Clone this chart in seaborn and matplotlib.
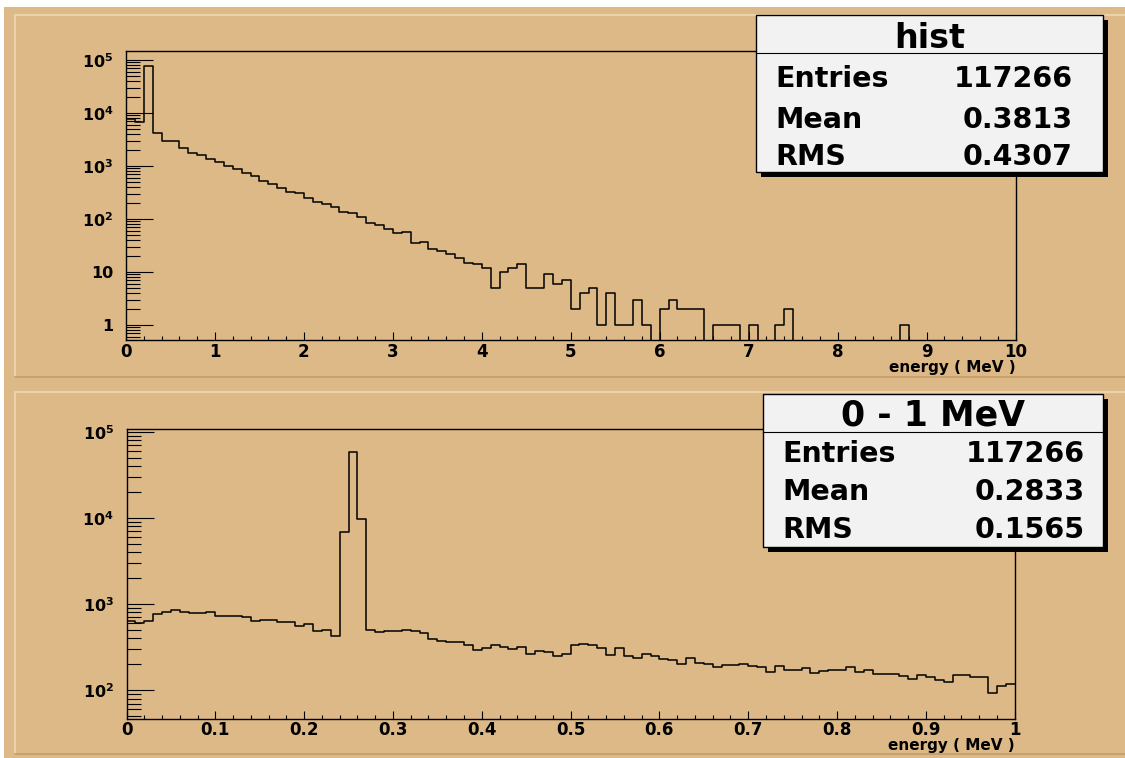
import matplotlib
matplotlib.use("Agg")
import matplotlib.pyplot as plt
from matplotlib.patches import Rectangle
from matplotlib.lines import Line2D
from matplotlib.ticker import LogLocator, MultipleLocator, FuncFormatter, NullFormatter
import numpy as np
import pandas as pd
import seaborn as sns

# full range spectrum, 100 bins of 0.1 MeV
full_counts = [7700, 6850, 78000, 4140, 2950, 2950, 2150, 1780, 1620, 1340,
               1170, 1000, 890, 740, 640, 515, 465, 390, 330, 310,
               250, 210, 190, 170, 138, 128, 110, 85, 77, 65,
               54, 56, 35, 37, 27, 25, 22, 18, 15, 14,
               12, 5, 10, 12, 14, 5, 5, 9, 6, 7,
               2, 4, 5, 1, 4, 1, 1, 3, 1, 0,
               2, 3, 2, 2, 2, 0, 1, 1, 1, 0,
               1, 0, 0, 1, 2, 0, 0, 0, 0, 0,
               0, 0, 0, 0, 0, 0, 0, 1, 0, 0,
               0, 0, 0, 0, 0, 0, 0, 0, 0, 0]
full_range = (0, 10)

# zoom 0 - 1 MeV, 100 bins of 0.01 MeV
low_counts = [640, 605, 640, 760, 807, 845, 815, 780, 795, 807,
              725, 725, 725, 710, 630, 650, 656, 622, 622, 555,
              585, 485, 499, 428, 6800, 58000, 9660, 502, 480, 490,
              485, 502, 485, 457, 390, 376, 366, 362, 336, 297,
              308, 336, 316, 305, 319, 264, 286, 279, 249, 267,
              331, 340, 331, 308, 260, 310, 253, 240, 267, 247,
              229, 223, 202, 236, 210, 204, 188, 195, 197, 202,
              190, 185, 165, 192, 171, 174, 179, 158, 166, 174,
              171, 187, 165, 171, 156, 156, 156, 147, 136, 149,
              144, 130, 126, 149, 151, 142, 142, 92, 111, 117]
low_range = (0, 1)

stats_top = ("hist", ["Entries", "Mean", "RMS"], ["117266", "0.3813", "0.4307"])
stats_bot = ("0 - 1 MeV", ["Entries", "Mean", "RMS"], ["117266", "0.2833", "0.1565"])

W, H = 1125, 758
TAN = "#DDB987"
LIGHT = "#EAD3AC"
DARK = "#C49C66"

plt.rcParams["font.family"] = ["DejaVu Sans"]
plt.rcParams["font.weight"] = "bold"
plt.rcParams["axes.linewidth"] = 1.0


def fx(x):
    return x / W


def fy(y):
    return 1 - y / H


def log_label(v, pos):
    e = int(round(np.log10(v)))
    if e == 0:
        return "1"
    if e == 1:
        return "10"
    return r"$\mathbf{10^{%d}}$" % e


def draw_hist(ax, counts, rng, ylim, major, minor):
    n = len(counts)
    edges = np.linspace(rng[0], rng[1], n + 1)
    df = pd.DataFrame({"energy": (edges[:-1] + edges[1:]) / 2, "counts": counts})
    sns.histplot(data=df, x="energy", weights="counts", bins=n, binrange=rng,
                 element="step", fill=False, color="black", linewidth=1.1, ax=ax)
    ax.set_yscale("log")
    ax.set_xlim(*rng)
    ax.set_ylim(*ylim)
    ax.set_facecolor(TAN)
    for s in ax.spines.values():
        s.set_color("black")
        s.set_linewidth(1.0)
    ax.xaxis.set_major_locator(MultipleLocator(major))
    ax.xaxis.set_minor_locator(MultipleLocator(minor))
    ax.xaxis.set_major_formatter(FuncFormatter(lambda v, p: f"{v:g}"))
    ax.yaxis.set_major_locator(LogLocator(base=10, numticks=20))
    ax.yaxis.set_minor_locator(LogLocator(base=10, subs=np.arange(2, 10), numticks=100))
    ax.yaxis.set_major_formatter(FuncFormatter(log_label))
    ax.yaxis.set_minor_formatter(NullFormatter())
    ax.tick_params(axis="y", which="major", direction="in", length=19.4, width=0.8,
                   right=False, pad=9, labelsize=11.5)
    ax.tick_params(axis="y", which="minor", direction="in", length=10, width=0.8, right=False)
    ax.tick_params(axis="x", which="major", direction="in", length=5.5, width=0.8,
                   top=False, pad=2, labelsize=12)
    ax.tick_params(axis="x", which="minor", direction="in", length=2.7, width=0.8, top=False)
    ax.set_ylabel("")
    ax.set_xlabel("energy ( MeV )", loc="right", fontsize=11, fontweight="bold")
    ax.xaxis.set_label_coords(1.0, -0.068)


def stats_box(fig, x0, y0, x1, y1, ysep, stats, title_base, title_size,
              row_bases, lab_x, val_x):
    title, labels, values = stats
    fig.add_artist(Rectangle((fx(x0 + 5), fy(y1 + 5)), (x1 - x0) / W, (y1 - y0) / H,
                             transform=fig.transFigure, facecolor="black",
                             edgecolor="none", zorder=5))
    fig.add_artist(Rectangle((fx(x0), fy(y1)), (x1 - x0) / W, (y1 - y0) / H,
                             transform=fig.transFigure, facecolor="#F2F2F2",
                             edgecolor="black", linewidth=1.0, zorder=6))
    fig.add_artist(Line2D([fx(x0), fx(x1)], [fy(ysep), fy(ysep)],
                          transform=fig.transFigure, color="black", linewidth=0.8, zorder=7))
    fig.text(fx((x0 + x1) / 2), fy(title_base), title, ha="center", va="baseline",
             fontsize=title_size, fontweight="bold", zorder=8)
    for lab, val, yb in zip(labels, values, row_bases):
        fig.text(fx(lab_x), fy(yb), lab, ha="left", va="baseline",
                 fontsize=20.5, fontweight="bold", zorder=8)
        fig.text(fx(val_x), fy(yb), val, ha="right", va="baseline",
                 fontsize=20.5, fontweight="bold", zorder=8)


fig = plt.figure(figsize=(W / 100, H / 100), dpi=100, facecolor="white")

# canvas and pad bevels
fig.add_artist(Rectangle((fx(4), 0), (W - 4) / W, fy(7), transform=fig.transFigure,
                         facecolor=TAN, edgecolor="none", zorder=-10))
for top, bottom in [(15, 377), (392, 754)]:
    fig.add_artist(Line2D([fx(15), fx(15)], [fy(top), fy(bottom)], transform=fig.transFigure,
                          color=LIGHT, linewidth=1.5, zorder=-5))
    fig.add_artist(Line2D([fx(15), 1], [fy(top), fy(top)], transform=fig.transFigure,
                          color=LIGHT, linewidth=1.5, zorder=-5))
    fig.add_artist(Line2D([fx(15), 1], [fy(bottom), fy(bottom)], transform=fig.transFigure,
                          color=DARK, linewidth=1.2, zorder=-5))

ax_top = fig.add_axes([fx(126), fy(340), (1015.5 - 126) / W, (340 - 50.7) / H])
ax_bot = fig.add_axes([fx(126.5), fy(718.5), (1014.7 - 126.5) / W, (718.5 - 429) / H])

draw_hist(ax_top, full_counts, full_range, (0.52, 1.5e5), 1, 0.2)
draw_hist(ax_bot, low_counts, low_range, (47, 1.08e5), 0.1, 0.02)

stats_box(fig, 756, 15, 1103, 172, 52.7, stats_top, 48, 24, [87, 128, 165], 775, 1073)
stats_box(fig, 763, 394, 1103, 547, 431.7, stats_bot, 425, 25, [462, 500, 538], 782, 1085)

fig.savefig("out.png", dpi=100, facecolor=fig.get_facecolor())
